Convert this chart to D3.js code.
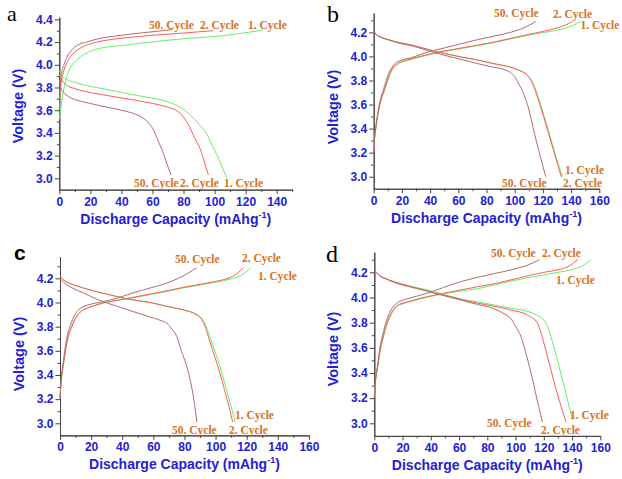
<!DOCTYPE html>
<html lang="en">
<head>
<meta charset="UTF-8">
<title>charge discharge</title>
<style>
  body { margin: 0; background: #fff; }
  svg text { font-family: "Liberation Sans", Arial, sans-serif; }
</style>
</head>
<body>
<svg id="chart"></svg>
<script src="https://cdn.jsdelivr.net/npm/d3@7"></script>
<script>
// ---- data: [capacity mAh/g, voltage V] ----
var aCharge1 = [[0,3.52],[1,3.62],[2.5,3.76],[4.7,3.89],[7,3.97],[11,4.04],[16,4.09],[22,4.13],[30,4.155],[41,4.17],[55,4.195],[69,4.215],[85,4.235],[101,4.25],[116,4.275],[131,4.305]];
var aCharge2 = [[0,3.6],[0.5,3.75],[1.5,3.86],[3,3.95],[5,4.02],[9,4.1],[14,4.15],[20,4.185],[30,4.215],[48,4.245],[65,4.265],[80,4.28],[99,4.30]];
var aCharge50 = [[0,3.69],[0.5,3.8],[1.5,3.92],[3,4.0],[5,4.07],[8,4.13],[12,4.175],[17.5,4.2],[27,4.235],[37,4.255],[56,4.285],[73,4.31]];
var aDischarge1 = [[0,3.95],[2,3.9],[4.7,3.87],[10,3.845],[18,3.815],[26,3.795],[37,3.765],[48,3.735],[58,3.71],[66,3.69],[72,3.665],[78,3.625],[83,3.575],[87,3.52],[91,3.46],[95,3.39],[98,3.3],[101,3.22],[104.5,3.11],[108,3.0]];
var aDischarge2 = [[0,3.91],[2,3.86],[4.7,3.82],[10,3.79],[22,3.75],[35,3.72],[48,3.69],[60,3.66],[69,3.63],[75,3.6],[78,3.57],[81,3.52],[84,3.45],[87,3.36],[91,3.25],[93.5,3.14],[96,3.03]];
var aDischarge50 = [[0,3.87],[1,3.8],[2.6,3.76],[6,3.72],[11,3.69],[18,3.665],[26,3.64],[35,3.615],[43,3.59],[50,3.56],[54,3.53],[58,3.48],[60.5,3.43],[63,3.35],[67,3.22],[69.5,3.12],[72,3.03]];

var bCharge1 = [[0,3.21],[0.5,3.3],[1.7,3.42],[4,3.58],[7.6,3.72],[10,3.8],[12.3,3.87],[17,3.935],[22,3.96],[26.5,3.975],[38,4.01],[50,4.04],[62,4.065],[74,4.09],[85.6,4.115],[97,4.145],[109,4.175],[121,4.2],[133,4.225],[141,4.255],[146.5,4.29]];
var bCharge2 = [[0,3.21],[0.5,3.3],[1.7,3.42],[4,3.58],[7.6,3.72],[10,3.81],[12.3,3.88],[17,3.94],[22,3.965],[26.5,3.98],[38,4.015],[50,4.045],[62,4.07],[74,4.095],[85.6,4.12],[97,4.15],[109,4.18],[121,4.21],[131,4.24],[137,4.265],[141,4.29]];
var bCharge50 = [[0,3.2],[0.5,3.3],[1.7,3.43],[4,3.6],[7.6,3.75],[10,3.84],[12.5,3.9],[15,3.94],[20,3.97],[27,3.99],[38,4.035],[50,4.07],[62,4.105],[74,4.14],[86,4.17],[97,4.2],[106,4.235],[115,4.29]];
var bDischarge1 = [[0,4.21],[2,4.18],[5,4.16],[10,4.14],[18,4.115],[26.5,4.095],[38,4.06],[50,4.025],[62,3.995],[73.7,3.97],[85,3.94],[97,3.91],[104,3.88],[109,3.845],[112,3.8],[114,3.75],[117,3.65],[121,3.5],[124.5,3.36],[128,3.22],[131,3.1],[134,3.0]];
var bDischarge2 = [[0,4.21],[2,4.18],[5,4.16],[10,4.14],[18,4.115],[26.5,4.095],[38,4.06],[50,4.025],[62,3.995],[73.7,3.97],[85,3.94],[97,3.91],[104,3.88],[108.8,3.845],[111.6,3.8],[113.5,3.75],[116.5,3.65],[120.5,3.5],[124,3.36],[127.5,3.22],[130.5,3.1],[133,3.0]];
var bDischarge50 = [[0,4.21],[2,4.18],[5,4.16],[10,4.14],[18,4.11],[26.5,4.09],[38,4.05],[50,4.01],[62,3.975],[73.7,3.94],[85,3.91],[92.6,3.89],[97,3.865],[100,3.83],[103,3.77],[107,3.67],[110,3.56],[114,3.36],[117,3.22],[119.5,3.11],[122,3.0]];

var cCharge1 = [[0,3.21],[1,3.38],[2,3.47],[4.3,3.66],[7.5,3.8],[10,3.87],[12.9,3.92],[16,3.945],[19.3,3.96],[25,3.985],[32,4.005],[45,4.035],[58,4.065],[68,4.09],[79,4.12],[90,4.145],[100.8,4.17],[110,4.195],[117,4.23],[123,4.29]];
var cCharge2 = [[0,3.21],[1,3.38],[2,3.47],[4.3,3.66],[7.5,3.8],[10,3.87],[12.9,3.92],[16,3.945],[19.3,3.962],[25,3.987],[32,4.008],[45,4.038],[58,4.07],[68,4.095],[79,4.125],[90,4.15],[100,4.175],[108,4.2],[114,4.24],[118,4.29]];
var cCharge50 = [[0,3.21],[1,3.4],[2,3.5],[4.3,3.7],[7.5,3.84],[10,3.91],[12.9,3.95],[18,3.98],[25,4.0],[32,4.02],[40,4.05],[47,4.08],[58,4.12],[68.6,4.16],[76,4.2],[82,4.24],[88,4.29]];
var cDischarge1 = [[0,4.22],[3,4.18],[8,4.15],[15,4.12],[25,4.085],[36.4,4.05],[43,4.03],[58,4.0],[68,3.97],[79,3.94],[88,3.9],[91,3.87],[94,3.8],[97,3.69],[100.8,3.55],[104,3.42],[107,3.28],[110,3.14],[112.6,3.01]];
var cDischarge2 = [[0,4.22],[3,4.18],[8,4.15],[15,4.12],[25,4.085],[36.4,4.05],[43,4.03],[58,4.0],[68,3.97],[79,3.94],[87.5,3.9],[90.5,3.87],[93.3,3.8],[96,3.69],[99.5,3.55],[102.7,3.42],[105.7,3.28],[108.6,3.14],[111,3.01]];
var cDischarge50 = [[0,4.2],[3,4.16],[8,4.12],[15,4.08],[25,4.02],[36.4,3.97],[47,3.925],[58,3.88],[65,3.85],[68.6,3.83],[72,3.78],[75,3.72],[78,3.6],[81.5,3.47],[84,3.34],[86,3.2],[88,3.01]];

var dCharge1 = [[0,3.21],[1,3.35],[2.4,3.45],[4,3.57],[5.9,3.66],[8.5,3.77],[11.8,3.86],[15,3.92],[18.9,3.945],[25,3.965],[33,3.99],[49.6,4.03],[61,4.05],[73,4.07],[85,4.1],[96.8,4.13],[108,4.155],[120,4.18],[130,4.2],[139,4.22],[147,4.25],[153.4,4.3]];
var dCharge2 = [[0,3.21],[1,3.35],[2.4,3.45],[4,3.57],[5.9,3.67],[8.5,3.78],[11.8,3.87],[15,3.925],[18.9,3.95],[25,3.97],[33,3.995],[49.6,4.035],[61,4.06],[73,4.085],[85,4.11],[96.8,4.14],[108,4.17],[120,4.2],[130,4.22],[138,4.25],[144,4.3]];
var dCharge50 = [[0,3.2],[1,3.36],[2.4,3.47],[4,3.6],[5.9,3.7],[8.5,3.81],[11.8,3.9],[16.5,3.96],[22,3.985],[30,4.01],[37.8,4.035],[49,4.08],[61,4.125],[73,4.16],[85,4.19],[97,4.22],[108,4.255],[117,4.3]];
var dDischarge1 = [[0,4.22],[3,4.18],[8,4.15],[14,4.125],[25,4.09],[37.8,4.06],[49,4.025],[61,3.99],[73,3.965],[85,3.94],[97,3.915],[108.6,3.89],[115,3.86],[120,3.82],[123,3.76],[125,3.69],[128,3.57],[132,3.40],[135,3.27],[138,3.13],[140.4,3.03]];
var dDischarge2 = [[0,4.22],[3,4.18],[8,4.15],[14,4.12],[25,4.085],[37.8,4.05],[49,4.02],[61,3.985],[73,3.955],[85,3.93],[97,3.9],[108.6,3.86],[115.6,3.795],[118,3.72],[120,3.64],[123.5,3.49],[127,3.34],[131,3.18],[135.7,3.01]];
var dDischarge50 = [[0,4.22],[3,4.18],[8,4.15],[14,4.125],[25,4.09],[37.8,4.05],[49,4.015],[61,3.98],[73,3.945],[85,3.91],[92,3.87],[96.8,3.83],[100,3.77],[103.8,3.69],[107,3.57],[111,3.40],[115,3.2],[119,3.01]];

// tick values
var yTicksA = [3.0, 3.2, 3.4, 3.6, 3.8, 4.0, 4.2, 4.4];
var yTicksBCD = [3.0, 3.2, 3.4, 3.6, 3.8, 4.0, 4.2];
var xTicksA = [0, 20, 40, 60, 80, 100, 120, 140];
var xTicksBCD = [0, 20, 40, 60, 80, 100, 120, 140, 160];

// curve labels, [text, capacity, voltage] in data units
var labelsA = [["50. Cycle",57.8,4.35],["2. Cycle",90.6,4.35],["1. Cycle",121.5,4.35],
               ["50. Cycle",48.1,2.96],["2. Cycle",77.7,2.96],["1. Cycle",106.1,2.96]];
var labelsB = [["50. Cycle",85.3,4.36],["2. Cycle",127.2,4.35],["1. Cycle",146.6,4.26],
               ["1. Cycle",135.7,3.056],["50. Cycle",91.0,2.948],["2. Cycle",134.3,2.948]];
var labelsC = [["50. Cycle",73.9,4.36],["2. Cycle",117,4.368],["1. Cycle",127.3,4.22],
               ["1. Cycle",112.5,3.069],["50. Cycle",72,2.945],["2. Cycle",108.6,2.945]];
var labelsD = [["50. Cycle",82.6,4.354],["2. Cycle",118.7,4.354],["1. Cycle",128.6,4.14],
               ["1. Cycle",138.5,3.067],["50. Cycle",79.7,3.002],["2. Cycle",118,2.947]];

var cycleColor = {c1: "#66ee66", c2: "#ff5a5a", c50: "#b06c6c"};
var blue = "#2222d4";
var orange = "#d8721c";

var width = 622, height = 479;
var svg = d3.select("#chart").attr("width", width).attr("height", height);

var panels = [
  {letter: "a", serif: true, lx: 7, ly: 21, xMax: 150, yMin: 2.9, yMax: 4.42, xr: [59.3, 292.2], yr: [189.65, 17.1],
   xTicks: xTicksA, yTicks: yTicksA, titleY: 106, labels: labelsA,
   series: [[aCharge1, "c1"], [aCharge2, "c2"], [aCharge50, "c50"], [aDischarge1, "c1"], [aDischarge2, "c2"], [aDischarge50, "c50"]]},
  {letter: "b", serif: true, lx: 327, ly: 22, xMax: 160, yMin: 2.9, yMax: 4.36, xr: [373.7, 599.3], yr: [188.73, 13.1],
   xTicks: xTicksBCD, yTicks: yTicksBCD, titleY: 107, labels: labelsB,
   series: [[bCharge1, "c1"], [bCharge2, "c2"], [bCharge50, "c50"], [bDischarge1, "c1"], [bDischarge2, "c2"], [bDischarge50, "c50"]]},
  {letter: "c", serif: false, lx: 14, ly: 260, xMax: 160, yMin: 2.9, yMax: 4.38, xr: [60, 308.9], yr: [435.38, 256.6],
   xTicks: xTicksBCD, yTicks: yTicksBCD, titleY: 354, labels: labelsC,
   series: [[cCharge1, "c1"], [cCharge2, "c2"], [cCharge50, "c50"], [cDischarge1, "c1"], [cDischarge2, "c2"], [cDischarge50, "c50"]]},
  {letter: "d", serif: true, lx: 326, ly: 262, xMax: 160, yMin: 2.9, yMax: 4.36, xr: [374.3, 600.3], yr: [435.88, 252.2],
   xTicks: xTicksBCD, yTicks: yTicksBCD, titleY: 349, labels: labelsD,
   series: [[dCharge1, "c1"], [dCharge2, "c2"], [dCharge50, "c50"], [dDischarge1, "c1"], [dDischarge2, "c2"], [dDischarge50, "c50"]]}
];

panels.forEach(function(p) {
  var x = d3.scaleLinear().domain([0, p.xMax]).range(p.xr);
  var y = d3.scaleLinear().domain([p.yMin, p.yMax]).range(p.yr);
  var g = svg.append("g");

  // minor ticks halfway between the majors
  var xMinor = p.xTicks.map(function(d) { return d + 10; }).filter(function(d) { return d <= p.xMax; });
  var yMinor = p.yTicks.map(function(d) { return +(d + 0.1).toFixed(1); }).filter(function(d) { return d <= p.yMax; });

  g.append("g").attr("transform", "translate(0," + p.yr[0] + ")")
    .call(d3.axisBottom(x).tickValues(xMinor).tickSize(2.5).tickSizeOuter(0).tickFormat(""));
  g.append("g").attr("transform", "translate(" + p.xr[0] + ",0)")
    .call(d3.axisLeft(y).tickValues(yMinor).tickSize(2.5).tickSizeOuter(0).tickFormat(""));

  g.append("g").attr("transform", "translate(0," + p.yr[0] + ")")
    .call(d3.axisBottom(x).tickValues(p.xTicks).tickSize(4.5).tickSizeOuter(0).tickPadding(3));
  g.append("g").attr("transform", "translate(" + p.xr[0] + ",0)")
    .call(d3.axisLeft(y).tickValues(p.yTicks).tickSize(4.5).tickSizeOuter(0).tickPadding(2)
      .tickFormat(d3.format(".1f")));

  g.selectAll(".domain, .tick line").attr("stroke", "#444");
  g.selectAll(".tick text").attr("fill", blue).style("font-size", "12px").style("font-weight", "bold");

  // curves
  var line = d3.line().x(function(d) { return x(d[0]); }).y(function(d) { return y(d[1]); })
    .curve(d3.curveMonotoneX);
  g.selectAll("path.curve").data(p.series).enter().append("path")
    .attr("class", "curve")
    .attr("d", function(d) { return line(d[0]); })
    .attr("fill", "none")
    .attr("stroke", function(d) { return cycleColor[d[1]]; })
    .attr("stroke-width", 1);

  // cycle labels
  g.selectAll("text.lab").data(p.labels).enter().append("text")
    .attr("class", "lab")
    .attr("x", function(d) { return x(d[1]); })
    .attr("y", function(d) { return y(d[2]); })
    .attr("dy", "0.35em")
    .attr("fill", orange)
    .style("font-family", "'Liberation Serif', 'Times New Roman', serif")
    .style("font-weight", "bold")
    .style("font-size", "11.5px")
    .text(function(d) { return d[0]; });

  // axis titles
  g.append("text")
    .attr("transform", "translate(" + (p.xr[0] - 41) + "," + p.titleY + ") rotate(-90)")
    .attr("text-anchor", "middle").attr("dy", "0.35em")
    .attr("fill", blue).style("font-size", "14.5px").style("font-weight", "bold")
    .text("Voltage (V)");

  var xt = g.append("text")
    .attr("x", (p.xr[0] + p.xr[1]) / 2).attr("y", p.yr[0] + 34)
    .attr("text-anchor", "middle")
    .attr("fill", blue).style("font-size", "14px").style("font-weight", "bold");
  xt.append("tspan").text("Discharge Capacity (mAhg");
  xt.append("tspan").attr("dy", -6).style("font-size", "9px").text("-1");
  xt.append("tspan").attr("dy", 6).text(")");

  // panel letter
  g.append("text").attr("x", p.lx).attr("y", p.ly)
    .attr("fill", "#000")
    .style("font-family", p.serif ? "'Liberation Serif', 'Times New Roman', serif" : "'Liberation Sans', Arial, sans-serif")
    .style("font-weight", p.serif ? "normal" : "bold")
    .style("font-size", p.serif ? (p.letter === "a" ? "22px" : "24px") : "21px")
    .text(p.letter);
});
</script>
</body>
</html>
